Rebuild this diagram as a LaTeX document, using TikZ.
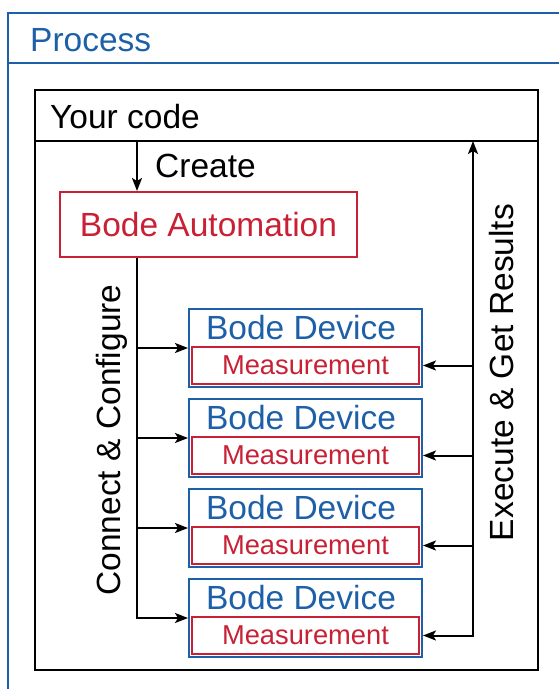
\documentclass[tikz,border=0pt]{standalone}
\usepackage{fontspec}
\setmainfont{Liberation Sans}
\usetikzlibrary{arrows.meta}
\definecolor{pblue}{RGB}{30,96,168}
\definecolor{pred}{RGB}{200,32,52}
\begin{document}
\begin{tikzpicture}[x=1pt,y=-1pt,
  big/.style={font=\fontsize{33.5}{40}\selectfont},
  small/.style={font=\fontsize{27.3}{33}\selectfont},
  tip/.style={},
  arr/.style={line width=2pt,-{Stealth[length=13pt,width=10pt,inset=3pt]}},
  arrboth/.style={line width=2pt,{Stealth[length=13pt,width=10pt,inset=3pt]}-{Stealth[length=13pt,width=10pt,inset=3pt]}},
  devbox/.style={draw=pblue,line width=2pt,minimum width=233pt,minimum height=78pt,inner sep=0pt},
  measbox/.style={draw=pred,line width=2pt,minimum width=227pt,minimum height=37pt,inner sep=0pt,small,text=pred},
  lbl/.style={big,inner sep=0pt}]
\useasboundingbox (0,0) rectangle (559,689);
\clip (0,0) rectangle (559,689);
% outer process frame
\draw[pblue,line width=2pt] (8,13) rectangle (620,720);
\draw[pblue,line width=2pt] (8,63) -- (620,63);
\node[lbl,text=pblue,anchor=base west] (proc) at (30,51) {Process};
% your code box
\node[draw,line width=2.2pt,minimum width=503pt,minimum height=580pt,anchor=north west,inner sep=0pt] (code) at (34,89) {};
\draw[line width=2pt] (34,141) -- (537,141);
\node[lbl,anchor=base west] (yc) at (50,128) {Your code};
% bode automation
\node[draw=pred,line width=2pt,minimum width=297pt,minimum height=65pt,lbl,text=pred] (ba) at (208.5,224.5) {Bode Automation};
\coordinate (c1) at (137,141);
\draw[arr] (c1) -- (ba.north -| c1);
\node[lbl,anchor=base west] (create) at (155,177) {Create};
% devices
\foreach \i in {1,...,4}{
  \pgfmathsetmacro{\top}{309+90*(\i-1)}
  \node[devbox] (dev\i) at (305.5,\top+39) {};
  \node[lbl,text=pblue,anchor=base] (bd\i) at (301,\top+30) {Bode Device};
  \node[measbox] (meas\i) at (305.5,\top+56.5) {Measurement};
}
% connect & configure
\draw[arr] (ba.south -| c1) |- (dev4.west);
\foreach \i in {1,2,3}{
  \draw[arr] (c1 |- dev\i.west) -- (dev\i.west);
}
\node[lbl,rotate=90,anchor=base] (cc) at (120,440) {Connect \& Configure};
% execute & get results
\coordinate (r1) at (473,141);
\draw[arrboth] (meas4.east -| dev4.east) -| (r1);
\foreach \i in {1,2,3}{
  \draw[arr] (meas\i.east -| r1) -- (meas\i.east -| dev\i.east);
}
\node[lbl,rotate=90,anchor=base] (eg) at (513,372.5) {Execute \& Get Results};
\end{tikzpicture}
\end{document}
